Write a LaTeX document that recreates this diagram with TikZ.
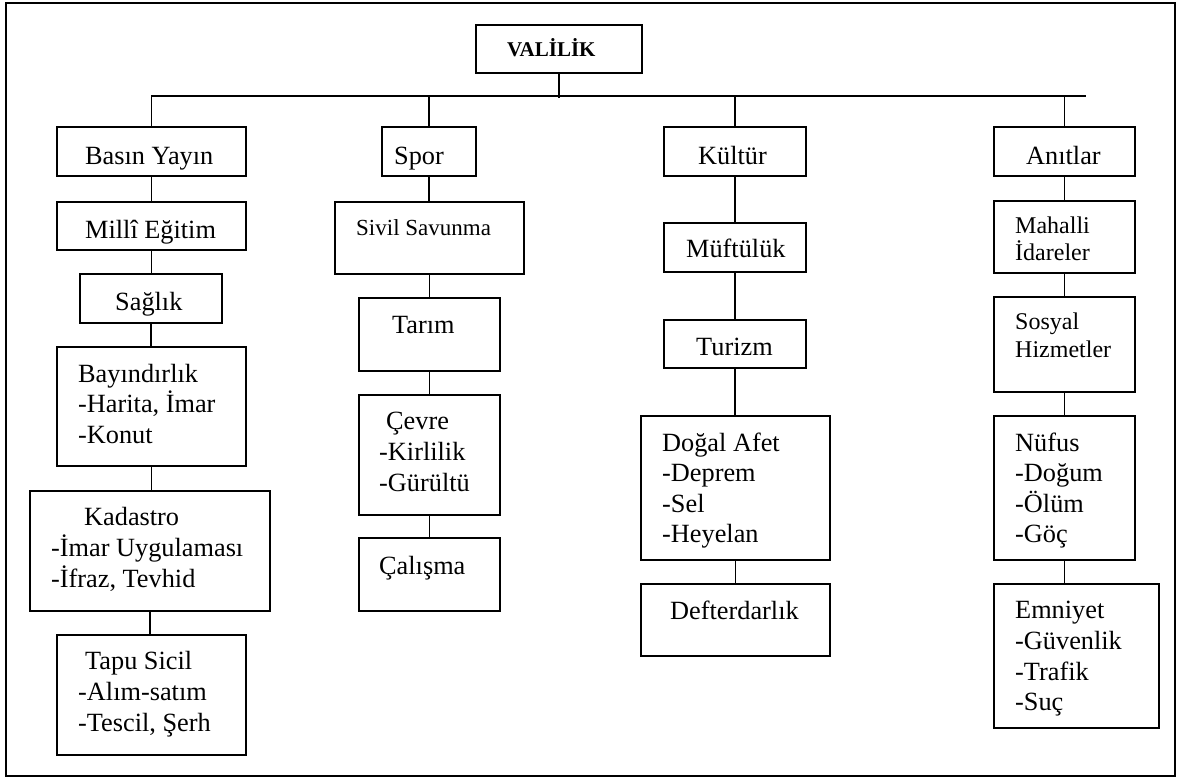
\documentclass[tikz,border=0pt]{standalone}
\usepackage{fontspec}
\setmainfont{Liberation Serif}
\begin{document}
\begin{tikzpicture}[x=1pt,y=-1pt,
  box/.style={draw, line width=1.9pt, inner sep=0pt},
  txt/.style={anchor=base west, inner sep=0pt, font=\fontsize{26.3}{31}\selectfont},
  stxt/.style={txt, font=\fontsize{24}{28}\selectfont},
  conn/.style={line width=1.9pt}]
\newcommand\bx[5]{\node[box, minimum width=#4pt-#2pt, minimum height=#5pt-#3pt] (#1) at ({(#2+#4)/2},{(#3+#5)/2}) {};}
\newcommand\tl[5][txt]{\node[#1] (#2) at (#3,#4) {#5};}
\useasboundingbox (0,0) rectangle (1182,780);
\node[draw, line width=1.9pt, inner sep=0pt, minimum width=1169pt, minimum height=773pt] (frame) at (590.5,389.5) {};
% boxes
\bx{val}{476}{25}{642}{73}
\bx{bas}{57}{127}{246}{176}
\bx{mil}{57}{202}{246}{250}
\bx{sag}{80}{274}{222}{323}
\bx{bay}{57}{347}{246}{466}
\bx{kad}{30}{491}{270}{611}
\bx{tap}{57}{635}{246}{755}
\bx{spo}{382}{127}{476}{176}
\bx{siv}{335}{202}{524}{274}
\bx{tar}{359}{298}{500}{371}
\bx{cev}{359}{395}{500}{515}
\bx{cal}{359}{538}{500}{611}
\bx{kul}{664}{127}{806}{176}
\bx{muf}{664}{223}{806}{272}
\bx{tur}{664}{320}{806}{368}
\bx{dog}{641}{416}{830}{560}
\bx{def}{641}{584}{830}{656}
\bx{ani}{994}{127}{1135}{176}
\bx{mah}{994}{201}{1135}{273}
\bx{sos}{994}{297}{1135}{392}
\bx{nuf}{994}{416}{1135}{560}
\bx{emn}{994}{584}{1159}{728}
% bus
\coordinate (busL) at (150,96);
\coordinate (busR) at (1086,96);
\draw[conn] (bas.north) -- (bas.north |- busL) -- (busR);
\draw[conn] (val.south) -- ([yshift=-2pt]val.south |- busL);
\draw[conn] (spo.north) -- (spo.north |- busL);
\draw[conn] (kul.north) -- (kul.north |- busL);
\draw[conn] (ani.north) -- (ani.north |- busL);
% column connectors
\draw[conn] (bas.south) -- (mil.north);
\draw[conn] (mil.south) -- (mil.south |- sag.north);
\draw[conn] (sag.south) -- (sag.south |- bay.north);
\draw[conn] (bay.south) -- (bay.south |- kad.north);
\draw[conn] (kad.south) -- (kad.south |- tap.north);
\draw[conn] (spo.south) -- (spo.south |- siv.north);
\draw[conn] (siv.south) -- (siv.south |- tar.north);
\draw[conn] (tar.south) -- (cev.north);
\draw[conn] (cev.south) -- (cal.north);
\draw[conn] (kul.south) -- (muf.north);
\draw[conn] (muf.south) -- (tur.north);
\draw[conn] (tur.south) -- (tur.south |- dog.north);
\draw[conn] (dog.south) -- (dog.south |- def.north);
\draw[conn] (ani.south) -- (mah.north);
\draw[conn] (mah.south) -- (sos.north);
\draw[conn] (sos.south) -- (nuf.north);
\draw[conn] (nuf.south) -- (nuf.south |- emn.north);
% texts
\tl[txt, font=\fontsize{21}{25}\selectfont\bfseries]{tval}{507}{56}{VALİLİK}
\tl{tbas}{85}{164}{Basın Yayın}
\tl{tmil}{85}{238}{Millî Eğitim}
\tl{tsag}{115}{310}{Sağlık}
\tl{tbay1}{78}{382}{Bayındırlık}
\tl{tbay2}{78}{412.5}{-Harita, İmar}
\tl{tbay3}{78}{443}{-Konut}
\tl{tkad1}{84}{525.5}{Kadastro}
\tl{tkad2}{51}{556}{-İmar Uygulaması}
\tl{tkad3}{51}{587}{-İfraz, Tevhid}
\tl{ttap1}{85}{669}{Tapu Sicil}
\tl{ttap2}{78}{700}{-Alım-satım}
\tl{ttap3}{78}{731}{-Tescil, Şerh}
\tl{tspo}{394}{164}{Spor}
\tl[txt, font=\fontsize{23}{27}\selectfont]{tsiv}{356}{235}{Sivil Savunma}
\tl{ttar}{392}{333.5}{Tarım}
\tl{tcev1}{386}{429}{Çevre}
\tl{tcev2}{379}{460}{-Kirlilik}
\tl{tcev3}{379}{491}{-Gürültü}
\tl{tcal}{379}{574.5}{Çalışma}
\tl{tkul}{698}{164}{Kültür}
\tl{tmuf}{686}{257}{Müftülük}
\tl{ttur}{696}{355}{Turizm}
\tl{tdog1}{662}{451}{Doğal Afet}
\tl{tdog2}{662}{481.6}{-Deprem}
\tl{tdog3}{662}{512.7}{-Sel}
\tl{tdog4}{662}{542.4}{-Heyelan}
\tl{tdef}{670}{619.5}{Defterdarlık}
\tl{tani}{1026}{164}{Anıtlar}
\tl[stxt]{tmah1}{1015}{233}{Mahalli}
\tl[stxt]{tmah2}{1015}{260}{İdareler}
\tl[stxt]{tsos1}{1015}{329.4}{Sosyal}
\tl[stxt]{tsos2}{1015}{357.5}{Hizmetler}
\tl{tnuf1}{1015}{451}{Nüfus}
\tl{tnuf2}{1015}{481.6}{-Doğum}
\tl{tnuf3}{1015}{512.7}{-Ölüm}
\tl{tnuf4}{1015}{542.4}{-Göç}
\tl{temn1}{1015}{618.5}{Emniyet}
\tl{temn2}{1015}{649.6}{-Güvenlik}
\tl{temn3}{1015}{680}{-Trafik}
\tl{temn4}{1015}{710}{-Suç}
\end{tikzpicture}
\end{document}
